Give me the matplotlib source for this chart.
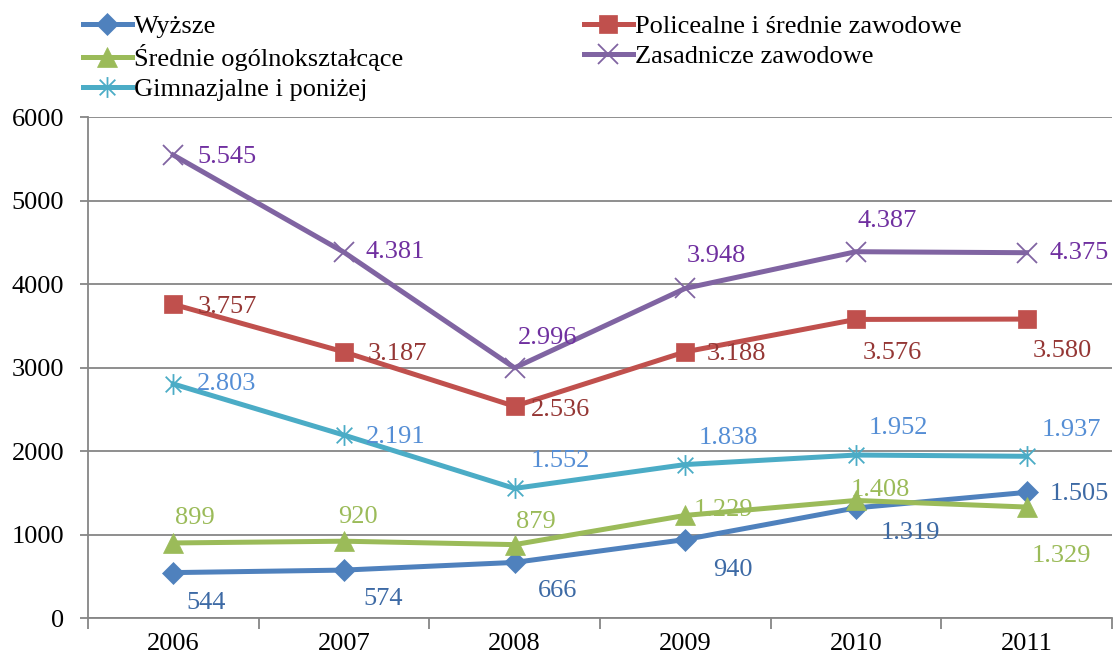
import matplotlib
matplotlib.use("Agg")
import matplotlib.pyplot as plt
from matplotlib.path import Path

# Data
years = ["2006", "2007", "2008", "2009", "2010", "2011"]
wyzsze = [544, 574, 666, 940, 1319, 1505]
policealne = [3757, 3187, 2536, 3188, 3576, 3580]
srednie = [899, 920, 879, 1229, 1408, 1329]
zasadnicze = [5545, 4381, 2996, 3948, 4387, 4375]
gimnazjalne = [2803, 2191, 1552, 1838, 1952, 1937]

plt.rcParams["font.family"] = ["Liberation Serif", "DejaVu Serif"]
plt.rcParams["font.size"] = 19

# asterisk marker like in Excel (vertical line plus an x)
star = Path([(0, -1), (0, 1), (-0.75, -0.75), (0.75, 0.75), (-0.75, 0.75), (0.75, -0.75)],
            [Path.MOVETO, Path.LINETO, Path.MOVETO, Path.LINETO, Path.MOVETO, Path.LINETO])

# name, values, line colour, label colour, marker, marker size, label offsets (px)
series = [
    ("Wyższe", wyzsze, "#4F81BD", "#3D6AA5", "D", 11,
     [(13, -30), (19, -29), (23, -29), (28, -30), (25, -25), (23, -2)]),
    ("Średnie ogólnokształcące", srednie, "#9BBB59", "#9BBB59", "^", 14,
     [(2, 25), (-6, 24), (1, 23), (8, 5), (-5, 10), (5, -49)]),
    ("Gimnazjalne i poniżej", gimnazjalne, "#4BACC6", "#558ED5", star, 15,
     [(24, 0), (22, -2), (16, 27), (13, 27), (13, 27), (15, 26)]),
    ("Policealne i średnie zawodowe", policealne, "#C0504D", "#953735", "s", 13,
     [(24, -3), (24, -2), (16, -4), (21, -2), (7, -34), (6, -32)]),
    ("Zasadnicze zawodowe", zasadnicze, "#8064A2", "#7030A0", "x", 14,
     [(24, -2), (22, 0), (3, 30), (1, 32), (2, 31), (23, 0)]),
]

fig = plt.figure(figsize=(11.13, 6.6), dpi=100)
ax = fig.add_axes([0.079, 0.0636, 0.92, 0.7591])

x = list(range(len(years)))
handles = []
for name, vals, col, lcol, mk, ms, offs in series:
    thin = mk == "x" or isinstance(mk, Path)
    h, = ax.plot(x, vals, color=col, linewidth=3.6, marker=mk, markersize=ms,
                 markeredgewidth=1.3 if thin else 0.5,
                 markeredgecolor=col, markerfacecolor=col, label=name, zorder=3)
    handles.append(h)
    for xi, v, (dx, dy) in zip(x, vals, offs):
        txt = f"{v:,}".replace(",", ".")
        ax.annotate(txt, (xi, v), xytext=(dx, dy), textcoords="offset pixels",
                    ha="left", va="center", color=lcol, fontsize=19, zorder=4)

ax.set_xlim(-0.5, 5.5)
ax.set_ylim(0, 6000)
ax.set_yticks(range(0, 6001, 1000))
ax.set_xticks(x)
ax.set_xticklabels(years)
ax.set_xticks([i - 0.5 for i in range(len(years) + 1)], minor=True)
ax.tick_params(axis="x", which="major", length=0, pad=11)
ax.tick_params(axis="x", which="minor", length=8, width=1.3, color="#868686")
ax.tick_params(axis="y", length=6, width=1.3, color="#868686", pad=11)
ax.grid(axis="y", color="#868686", linewidth=1.3)
ax.set_axisbelow(True)
for s in ["top", "right"]:
    ax.spines[s].set_visible(False)
for s in ["left", "bottom"]:
    ax.spines[s].set_color("#868686")
    ax.spines[s].set_linewidth(1.3)

fig.legend(handles=handles, ncol=2, loc="upper left", bbox_to_anchor=(0.065, 0.994),
           frameon=False, fontsize=19, handlelength=1.85, handletextpad=0.1,
           columnspacing=6.83, labelspacing=0.24, borderaxespad=0)

fig.savefig("out.png", dpi=100)
